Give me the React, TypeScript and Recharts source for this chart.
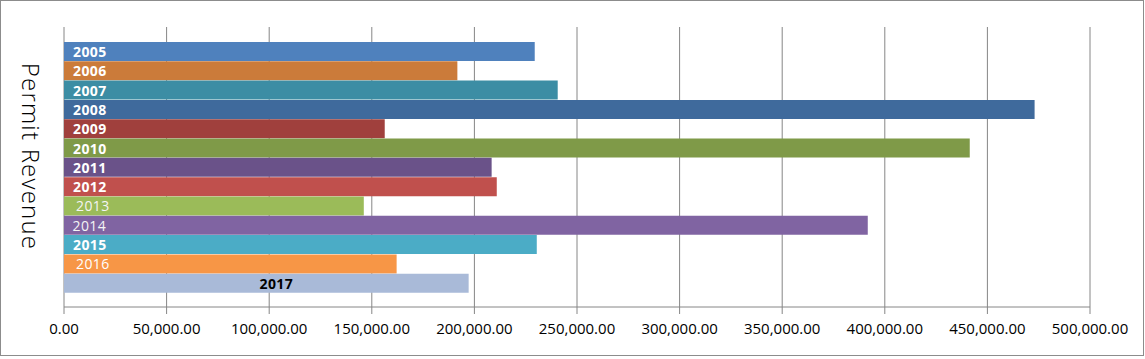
import React from 'react';
import { BarChart, Bar, XAxis, YAxis, CartesianGrid, Cell, LabelList } from 'recharts';

const years = ['2005', '2006', '2007', '2008', '2009', '2010', '2011', '2012', '2013', '2014', '2015', '2016', '2017'];
const revenue = [229400, 191700, 240600, 473000, 156300, 441400, 208400, 210900, 146100, 391700, 230400, 162100, 197200];
const xTicks = [0, 50000, 100000, 150000, 200000, 250000, 300000, 350000, 400000, 450000, 500000];
const axisTitle = 'Permit Revenue';

const barColors = ['#4F81BD', '#CB7B3A', '#3C8DA4', '#3F6A9C', '#A0403D', '#7F9A48', '#6A5289', '#C0504D', '#9BBB59', '#8064A2', '#4BACC6', '#F79646', '#A9BAD8'];
const labelWeights = ['bold', 'bold', 'bold', 'bold', 'bold', 'bold', 'bold', 'bold', 'normal', 'normal', 'bold', 'normal', 'bold'];
const labelColors = ['#fff', '#fff', '#fff', '#fff', '#fff', '#fff', '#fff', '#fff', '#f4f4f4', '#f4f4f4', '#fff', '#fff', '#000'];
const labelShift = [9, 9, 9, 9, 9, 9, 9, 9, 12, 8.5, 9, 12, -1];

const data = years.map((y, i) => ({ year: y, revenue: revenue[i] }));

const FONT = '"Open Sans", "Noto Sans", sans-serif';

const fmt = (v: number) => v.toLocaleString('en-US', { minimumFractionDigits: 2, maximumFractionDigits: 2 });

const BarLabel = (props: any) => {
  const { x, y, width, height, index } = props;
  const centered = labelShift[index] < 0;
  const tx = centered ? x + width / 2 + 10 : x + labelShift[index];
  return (
    <text
      x={tx}
      y={y + height / 2}
      dominantBaseline="central"
      textAnchor={centered ? 'middle' : 'start'}
      fill={labelColors[index]}
      fontWeight={labelWeights[index]}
      fontSize={14}
      letterSpacing={0.4}
      fontFamily={FONT}
    >
      {years[index]}
    </text>
  );
};

export default function App() {
  return (
    <div style={{ position: 'absolute', left: 0, top: 0, width: 1145, height: 359, background: '#fff' }}>
      <div
        style={{
          position: 'absolute',
          left: 0,
          top: 0,
          width: 1144,
          height: 356,
          border: '1px solid #8c8c8c',
          boxSizing: 'border-box',
        }}
      />
      <BarChart
        width={1145}
        height={359}
        data={data}
        layout="vertical"
        margin={{ top: 27, right: 55, bottom: 22, left: 64 }}
        barCategoryGap={0}
        barGap={0}
      >
        <CartesianGrid horizontal={false} vertical stroke="#868686" strokeWidth={1} />
        <XAxis
          type="number"
          domain={[0, 500000]}
          ticks={xTicks}
          interval={0}
          tickFormatter={fmt}
          axisLine={{ stroke: '#868686' }}
          tickLine={{ stroke: '#868686' }}
          tickSize={7}
          tickMargin={9}
          height={30}
          tick={{ fill: '#000', fontSize: 15, fontFamily: FONT }}
        />
        <YAxis type="category" dataKey="year" hide padding={{ top: 15, bottom: 14 }} />
        <Bar dataKey="revenue" isAnimationActive={false}>
          {data.map((d, i) => (
            <Cell key={d.year} fill={barColors[i]} />
          ))}
          <LabelList dataKey="year" content={BarLabel} />
        </Bar>
      </BarChart>
      <svg width={60} height={359} style={{ position: 'absolute', left: 0, top: 0 }}>
        <text
          x={156.5}
          y={-22}
          transform="rotate(90)"
          textAnchor="middle"
          fontSize={24}
          fontWeight={300}
          letterSpacing={1.2}
          fontFamily={FONT}
          fill="#000"
        >
          {axisTitle}
        </text>
      </svg>
    </div>
  );
}
